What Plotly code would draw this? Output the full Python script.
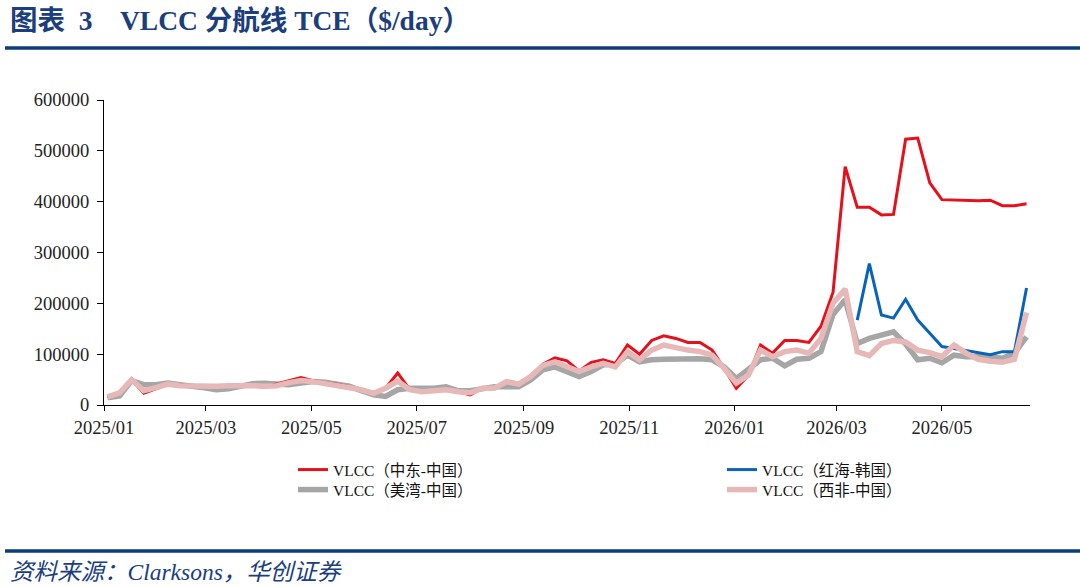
import pandas as pd
import plotly.graph_objects as go

dates = pd.date_range("2025-01-03", periods=77, freq="7D")

me_china = [16000, 25000, 50000, 23000, 32000, 40000, 40000, 38000, 37000, 37000,
            37000, 38000, 37000, 35000, 42000, 48000, 54000, 48000, 44000, 41000,
            36000, 30000, 23000, 33000, 63000, 30000, 26000, 28000, 31000, 26000,
            20000, 33000, 34000, 45000, 42000, 58000, 80000, 93000, 87000, 67000,
            84000, 89000, 82000, 118000, 100000, 127000, 136000, 131000, 123000, 123000,
            108000, 72000, 33000, 58000, 118000, 102000, 127000, 127000, 123000, 155000,
            222000, 469000, 389000, 389000, 374000, 375000, 523000, 525000, 437000, 404000,
            403000, 403000, 402000, 403000, 392000, 392000, 396000]

rs_korea = [None] * 62 + [167000, 278000, 177000, 171000, 208000, 167000, 141000, 115000,
                          111000, 107000, 102000, 99000, 105000, 105000, 230000]

usg_china = [14000, 18000, 48000, 40000, 40000, 43000, 40000, 38000, 34000, 30000,
             32000, 37000, 42000, 43000, 42000, 40000, 43000, 46000, 45000, 42000,
             37000, 28000, 20000, 17000, 30000, 33000, 33000, 33000, 36000, 28000,
             28000, 33000, 36000, 36000, 36000, 49000, 69000, 75000, 66000, 56000,
             66000, 79000, 80000, 98000, 85000, 89000, 90000, 90000, 92000, 91000,
             89000, 75000, 52000, 69000, 89000, 92000, 77000, 90000, 92000, 105000,
             178000, 207000, 121000, 131000, 138000, 144000, 120000, 89000, 92000, 83000,
             98000, 95000, 95000, 95000, 92000, 102000, 134000]

waf_china = [16000, 24000, 50000, 28000, 34000, 41000, 38000, 37000, 36000, 37000,
             38000, 39000, 38000, 37000, 38000, 44000, 48000, 46000, 42000, 39000,
             36000, 30000, 23000, 33000, 47000, 30000, 26000, 27000, 30000, 26000,
             24000, 33000, 33000, 46000, 41000, 56000, 78000, 85000, 75000, 66000,
             75000, 82000, 75000, 105000, 89000, 108000, 118000, 112000, 108000, 105000,
             98000, 72000, 43000, 59000, 108000, 95000, 105000, 108000, 102000, 131000,
             200000, 228000, 105000, 97000, 121000, 127000, 124000, 108000, 103000, 95000,
             118000, 102000, 90000, 86000, 84000, 90000, 182000]

names = ["VLCC（中东-中国）", "VLCC（红海-韩国）", "VLCC（美湾-中国）", "VLCC（西非-中国）"]
colors = ["#E5101B", "#0A63B8", "#A6A6A6", "#E6B9B8"]

title_text = "<b>图表  3    VLCC 分航线 TCE（$/day）</b>"
source_text = "<i>资料来源：Clarksons，华创证券</i>"

fig = go.Figure()
# drawing order: gray, red, blue, pink; one legend box per entry for exact placement
fig.add_trace(go.Scatter(x=dates, y=usg_china, name=names[2], mode="lines",
                         line=dict(color=colors[2], width=5.5), legend="legend3"))
fig.add_trace(go.Scatter(x=dates, y=me_china, name=names[0], mode="lines",
                         line=dict(color=colors[0], width=3), legend="legend"))
fig.add_trace(go.Scatter(x=dates, y=rs_korea, name=names[1], mode="lines",
                         line=dict(color=colors[1], width=3), legend="legend2"))
fig.add_trace(go.Scatter(x=dates, y=waf_china, name=names[3], mode="lines",
                         line=dict(color=colors[3], width=5.5), legend="legend4"))

W, H = 1080, 587
L, R, T, B = 104, 50, 100, 182
pw, ph = W - L - R, H - T - B

def px(xp):
    return (xp - L) / pw

def py(yp):
    return (H - B - yp) / ph

tick_font = dict(family="Liberation Serif, Noto Sans CJK SC", size=18.5, color="#222222")
leg_font = dict(family="Liberation Serif, Noto Sans CJK SC", size=15.5, color="#111111")

leg_common = dict(orientation="v", yanchor="middle", xanchor="left", font=leg_font,
                  tracegroupgap=0, bgcolor="rgba(0,0,0,0)", itemwidth=30)

fig.update_layout(
    width=W, height=H,
    margin=dict(l=L, r=R, t=T, b=B, pad=0),
    paper_bgcolor="white", plot_bgcolor="white",
    showlegend=True,
    legend=dict(x=px(293), y=py(470), **leg_common),
    legend2=dict(x=px(722), y=py(470), **leg_common),
    legend3=dict(x=px(293), y=py(490), **leg_common),
    legend4=dict(x=px(722), y=py(490), **leg_common),
    xaxis=dict(type="date", range=["2025-01-01", "2026-06-21"],
               tick0="2025-01-01", dtick="M2", tickformat="%Y/%m",
               showgrid=False, zeroline=False, showline=True, linecolor="black", linewidth=1,
               ticks="outside", ticklen=5, tickcolor="black", tickfont=tick_font,
               ticklabelstandoff=1),
    yaxis=dict(range=[0, 600000], tickvals=[0, 100000, 200000, 300000, 400000, 500000, 600000],
               tickformat="d", showgrid=False, zeroline=False, showline=True,
               linecolor="black", linewidth=1, ticks="outside", ticklen=6, tickcolor="black",
               tickfont=tick_font, ticklabelstandoff=4),
    annotations=[
        dict(text=title_text, xref="paper", yref="paper", x=px(8), y=py(21),
             xanchor="left", yanchor="middle", showarrow=False,
             font=dict(family="Liberation Serif, Noto Sans CJK SC", size=27.5, color="#1B3E7C")),
        dict(text=source_text, xref="paper", yref="paper", x=px(8), y=py(572),
             xanchor="left", yanchor="middle", showarrow=False,
             font=dict(family="Liberation Serif, Noto Sans CJK SC", size=23.5, color="#1B3E7C")),
    ],
    shapes=[
        dict(type="line", xref="paper", yref="paper", x0=px(5), x1=px(1080), y0=py(48), y1=py(48),
             line=dict(color="#0B3D7D", width=3.5)),
        dict(type="line", xref="paper", yref="paper", x0=px(5), x1=px(1080), y0=py(551), y1=py(551),
             line=dict(color="#0B3D7D", width=3.5)),
    ],
)

fig.write_html("out.html")
